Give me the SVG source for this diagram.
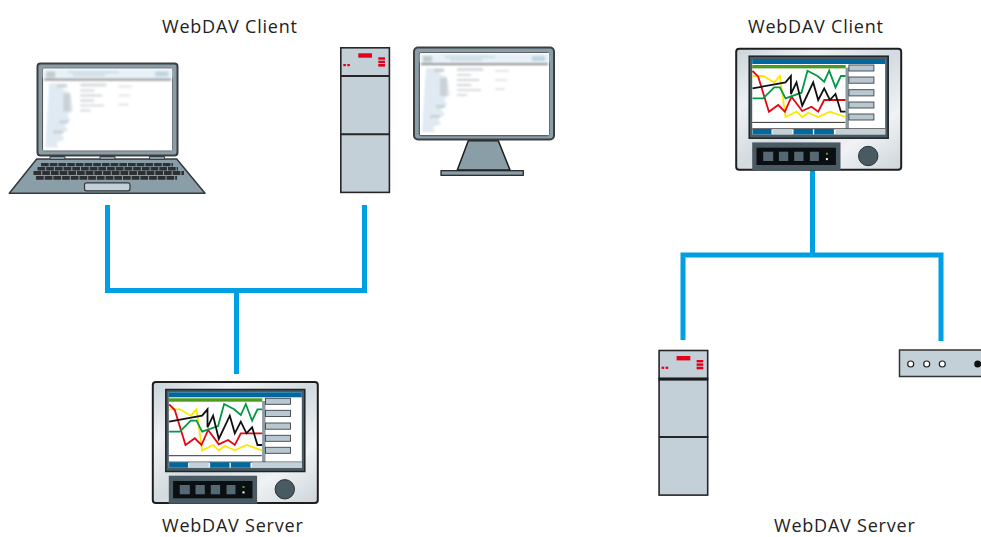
<svg xmlns="http://www.w3.org/2000/svg" xmlns:xlink="http://www.w3.org/1999/xlink" width="981" height="537" viewBox="0 0 981 537">
<style>
.lbl{font-family:"Open Sans","Liberation Sans",sans-serif;font-size:18px;letter-spacing:.78px;fill:#222}
.conn{fill:none;stroke:#009fe3;stroke-width:5;stroke-linejoin:miter}
.tw{fill:#c3d0d8;stroke:#262626;stroke-width:1.6}
.red{fill:#e2001a}
.lid{fill:#8a9ea8;stroke:#3c3f42;stroke-width:2}
.trace{fill:none;stroke-width:1.8;stroke-linejoin:miter}
.sb{fill:#b9c8d0;stroke:#3c4449;stroke-width:.9}
.tab{fill:#00689f}
.tabg{fill:#c3d0d8}
.key{fill:#546973}
</style>
<defs>
<linearGradient id="pg" x1="0" y1="0" x2="1" y2="1">
<stop offset="0" stop-color="#c9d3d9"/><stop offset=".25" stop-color="#eef1f3"/><stop offset=".5" stop-color="#d3dbe0"/><stop offset=".75" stop-color="#f0f2f4"/><stop offset="1" stop-color="#ccd5da"/>
</linearGradient>
<filter id="bl" x="-5%" y="-5%" width="110%" height="110%"><feGaussianBlur stdDeviation="1"/></filter>
<g id="panel">
<rect x="1" y="1" width="165" height="121" rx="3" fill="url(#pg)" stroke="#1e1e1e" stroke-width="2"/>
<rect x="14" y="8.500" width="139" height="82" fill="#4a5a63" stroke="#1e2428" stroke-width="1.500"/>
<rect x="17" y="11.300" width="133" height="75.400" fill="#fff"/>
<rect x="17" y="11.300" width="133" height="5" fill="#00689f"/>
<rect x="17" y="17.300" width="93.500" height="3.400" fill="#4e9a1e"/>
<rect x="110.300" y="20" width="3.400" height="61" fill="#8b9aa3"/>
<rect class="sb" x="113.700" y="17.300" width="25" height="6"/>
<rect class="sb" x="113.700" y="29.300" width="25" height="6.200"/>
<rect class="sb" x="113.700" y="42" width="25" height="6.200"/>
<rect class="sb" x="113.700" y="54.300" width="25" height="6"/>
<rect class="sb" x="113.700" y="66.300" width="25" height="6"/>
<polyline class="trace" stroke="#ffe600" points="17.300,28.300 28,28.300 39,34.700 44.700,28.300 50.300,69.300 61.300,64 67,69.300 73,65 83,69.300 94.700,64 110.300,69.300"/>
<polyline class="trace" stroke="#e30613" points="17.300,23.300 23,29 33.700,64 43,57.300 49.700,64 56.300,49 67,63.300 76.300,59 83,64 89,52.300 110.300,52.300"/>
<polyline class="trace" stroke="#009a44" points="17.300,50.700 28,50.700 39,39.700 44.700,39.700 50.300,50.700 66.300,45 72.300,23 82.300,28.300 89,34 94,23 100.300,39.700 105.700,28.300 110.300,28.300"/>
<polyline class="trace" stroke="#111" points="17.300,40.700 50.300,34.700 55.700,28.300 55.700,46.300 61.300,34.700 67,58 78,34.700 83,52.300 89,40.700 94.700,52.300 100.300,46.300 105.700,64 110.300,64"/>
<rect x="17" y="74.200" width="93" height="1" fill="#333"/>
<rect x="17" y="80.600" width="133" height="1" fill="#333"/>
<rect class="tab" x="17.300" y="81.300" width="19" height="5.400"/>
<rect class="tabg" x="37.300" y="81.300" width="19.700" height="5.400"/>
<rect class="tab" x="58.300" y="81.300" width="19.400" height="5.400"/>
<rect class="tab" x="79" y="81.300" width="19.700" height="5.400"/>
<rect class="tabg" x="100.300" y="81.300" width="49.700" height="5.400"/>
<rect x="17" y="94.700" width="88.300" height="28" fill="#4a5a63"/>
<rect x="21.300" y="100" width="79.400" height="17.300" fill="#0b0f12"/>
<rect class="key" x="28" y="104" width="10" height="9.300"/>
<rect class="key" x="43.700" y="104" width="9.300" height="9.300"/>
<rect class="key" x="59" y="104" width="9.300" height="9.300"/>
<rect class="key" x="74.700" y="104" width="9" height="9.300"/>
<rect x="90.700" y="105" width="2" height="2" fill="#3fa535"/>
<rect x="90.700" y="110.400" width="2" height="2" fill="#fff"/>
<circle cx="133" cy="108.300" r="9.700" fill="#4a5a63" stroke="#2a3237" stroke-width="1"/>
</g>
<g id="tower">
<rect class="tw" x="340.800" y="47.800" width="48.600" height="144.600"/>
<path d="M340.500 76H390M340.500 134.300H390" stroke="#262626" stroke-width="2" fill="none"/>
<rect class="red" x="358.300" y="53.300" width="13.700" height="4.400"/>
<rect class="red" x="378.300" y="57.300" width="6.700" height="2.400"/>
<rect class="red" x="378.300" y="60.700" width="6.700" height="2.400"/>
<rect class="red" x="378.300" y="64" width="6.700" height="2.600"/>
<rect class="red" x="343.300" y="64" width="2.600" height="2.200"/>
<rect class="red" x="347.300" y="64" width="2.600" height="2.200"/>
</g>
<g id="shot">
<rect x="0" y="0" width="129" height="82" fill="#fff"/>
<g filter="url(#bl)">
<rect x="0" y="1" width="129" height="8" fill="#e6f0f6"/>
<rect x="3" y="3" width="9" height="6" fill="#c2cacf"/>
<rect x="25" y="3" width="50" height="1.500" fill="#b5d4e9"/>
<rect x="30" y="6" width="32" height="1.500" fill="#c7cdd1"/>
<rect x="112" y="3" width="13" height="5" fill="#bcd4e3"/>
<rect x="1" y="10" width="127" height="2" fill="#83898d"/>
<path d="M6 15h18l-5 6 8 3 3 18-6 4 3 6-6 4 4 6-7 3 3 6-8 3 2 5H2z" fill="#dfeaf2"/>
<path d="M14 16h10v3H14zM20 25h7v18h-7zM16 52h9v3h-9zM10 62h10v3H10z" fill="#cbd2d6"/>
<rect x="37" y="15" width="26" height="3" fill="#d8dbdd"/>
<rect x="37" y="21" width="14" height="2" fill="#d5d8da"/>
<rect x="37" y="26" width="22" height="2" fill="#d0d4d6"/>
<rect x="37" y="31" width="14" height="2" fill="#d0d4d6"/>
<rect x="37" y="36" width="24" height="2" fill="#dadcde"/>
<rect x="37" y="41" width="10" height="2" fill="#d5d8da"/>
<rect x="75" y="17" width="14" height="2" fill="#e2e4e6"/>
<rect x="75" y="26" width="12" height="2" fill="#e2e4e6"/>
<rect x="75" y="35" width="10" height="2" fill="#e2e4e6"/>
</g>
</g>
</defs>

<g id="connectors">
<path class="conn" d="M107.500 205V290.500H364.500V205"/>
<path class="conn" d="M236.500 290.500V374"/>
<path class="conn" d="M812.500 170V255"/>
<path class="conn" d="M683 340V255H941V341"/>
</g>

<g id="label-client-left"><text class="lbl" x="162" y="32.500">WebDAV Client</text></g>
<g id="label-server-left"><text class="lbl" x="162" y="531.500">WebDAV Server</text></g>
<g id="label-client-right"><text class="lbl" x="748" y="32.500">WebDAV Client</text></g>
<g id="label-server-right"><text class="lbl" x="774" y="531.500">WebDAV Server</text></g>

<g id="laptop">
<polygon points="36.700,159 176.700,159 205,193.300 9.300,193.300" fill="#8a9ea8" stroke="#33383b" stroke-width="1.500" stroke-linejoin="round"/>
<path d="M50 156.500h15v3H50zM100 156.500h15v3h-15zM149.500 156.500h15v3h-15z" fill="#8a9ea8" stroke="#3c3f42" stroke-width="1"/>
<rect class="lid" x="37.500" y="63.500" width="140" height="92" rx="3"/>
<rect x="42.700" y="68.300" width="129.600" height="82.400" rx="1.500" fill="#fff" stroke="#3c3f42" stroke-width="1"/>
<use xlink:href="#shot" href="#shot" transform="translate(43.200,68.500)"/>
<g fill="none" stroke="#2e3032" stroke-dasharray="7.700 1">
<path d="M41 164.600H173" stroke-width="3.400"/>
<path d="M37.500 168.700H178" stroke-width="3.400"/>
<path d="M33.500 173H184" stroke-width="3.800"/>
<path d="M36 177.800H177" stroke-width="3.800"/>
</g>
<rect x="84.500" y="182.800" width="45.500" height="8" rx="2" fill="#c3d0d8" stroke="#33383b" stroke-width="1.200"/>
</g>

<g id="tower-left"><use xlink:href="#tower" href="#tower"/></g>

<g id="monitor">
<polygon points="468.300,140.700 498.300,140.700 510,170 457.300,170" fill="#8a9ea8" stroke="#1c1c1c" stroke-width="1.500"/>
<rect x="441" y="170.700" width="82.300" height="4.600" fill="#8a9ea8" stroke="#1c1c1c" stroke-width="1.200"/>
<rect class="lid" x="414" y="47.500" width="140" height="92" rx="4"/>
<rect x="419.300" y="52.700" width="129.700" height="83" rx="1.500" fill="#fff" stroke="#3c3f42" stroke-width="1"/>
<use xlink:href="#shot" href="#shot" transform="translate(420,53)"/>
</g>

<g id="panel-server-left"><use xlink:href="#panel" href="#panel" transform="translate(151.800,381)"/></g>
<g id="panel-client-right"><use xlink:href="#panel" href="#panel" transform="translate(735.200,47.700)"/></g>

<g id="tower-right"><use xlink:href="#tower" href="#tower" transform="translate(318.300,302.700)"/>
<rect x="658.500" y="377.600" width="49.600" height="3" fill="#1c1c1c"/></g>

<g id="router">
<rect x="899.500" y="350" width="84" height="26.500" fill="#c3d0d8" stroke="#333" stroke-width="1.500"/>
<circle cx="910.700" cy="364" r="3" fill="#fff" stroke="#222" stroke-width="1.200"/>
<circle cx="926.700" cy="364" r="3" fill="#fff" stroke="#222" stroke-width="1.200"/>
<circle cx="942.300" cy="364" r="3" fill="#fff" stroke="#222" stroke-width="1.200"/>
<circle cx="977.700" cy="364" r="3.500" fill="#111"/>
</g>
</svg>
